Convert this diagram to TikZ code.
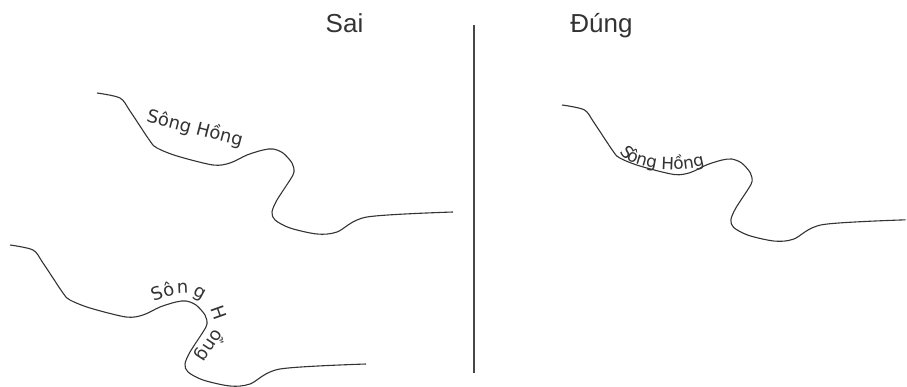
\documentclass[tikz,border=0pt]{standalone}
\usepackage{fontspec}
\setmainfont{Liberation Sans}
\newfontfamily\riverfont{DejaVu Sans}
\usetikzlibrary{%
  decorations.text%
}
\definecolor{inkgray}{HTML}{333333}
\tikzset{river/.style={draw=inkgray, line width=1.1pt, line join=round},
  heading/.style={font=\fontsize{26}{30}\selectfont, text=inkgray, anchor=base},
  divider/.style={draw=inkgray!90, line width=1.8pt},
  riverlabel/.style={font=\riverfont\fontsize{18}{20}\selectfont, text=inkgray}}

\begin{document}
\begin{tikzpicture}[x=1pt, y=-1pt]
    \useasboundingbox (0,0) rectangle (907,387);
    \node[heading] (sai) at (344.5,33) {Sai};
    \node[heading] (dung) at (601.5,33) {Đúng};
    \draw[divider] (474,25) -- (474,373);
    % sai: chữ thẳng
    \begin{scope}[shift={(97,93)}]
    \draw[river] plot[smooth, tension=0.5] coordinates {(0,0) (23,5) (33,18) (53,48)
      (60,55) (80,63) (116,72) (133,70) (150,62) (166,57) (176,56) (186,60) (195,70)
      (197,79) (193,87) (180,107) (175,119) (178,127) (193,135) (220,141) (240,139)
      (270,124) (356,119)};
    \end{scope}
    \node[riverlabel, anchor=base, rotate=-14.7] (ten1) at (193.5,134) {Sông Hồng};
    % sai: chữ theo dòng, bị giãn
    \begin{scope}[shift={(10,245)}]
    \draw[river, postaction={decorate, decoration={text along path,
      text={|\riverfont\fontsize{18}{20}\selectfont\color{inkgray}|Sông Hồng},
      text align={left indent=177pt}, raise=7.5pt}}]
      plot[smooth, tension=0.5] coordinates {(0,0) (23,5) (33,18) (53,48)
      (60,55) (80,63) (116,72) (133,70) (150,62) (166,57) (176,56) (186,60) (195,70)
      (197,79) (193,87) (180,107) (175,119) (178,127) (193,135) (220,141) (240,139)
      (270,124) (356,119)};
    \end{scope}
    % đúng
    \begin{scope}[shift={(562,105)}, x=0.965pt, y=-0.965pt]
    \draw[river] plot[smooth, tension=0.5] coordinates {(0,0) (23,5) (33,18) (53,48)
      (60,55) (80,63) (116,72) (133,70) (150,62) (166,57) (176,56) (186,60) (195,70)
      (197,79) (193,87) (180,107) (175,119) (178,127) (193,135) (220,141) (240,139)
      (270,124) (356,119)};
    \path[decorate, decoration={text along path,
      text={|\riverfont\fontsize{17}{19}\selectfont\color{inkgray}|Sông Hồng},
      text align={left indent=2pt}, raise=2pt}]
      (57,48) .. controls (62,57) and (68,61) .. (80,64)
      .. controls (100,70) and (128,72) .. (160,61);
    \end{scope}
\end{tikzpicture}
\end{document}
